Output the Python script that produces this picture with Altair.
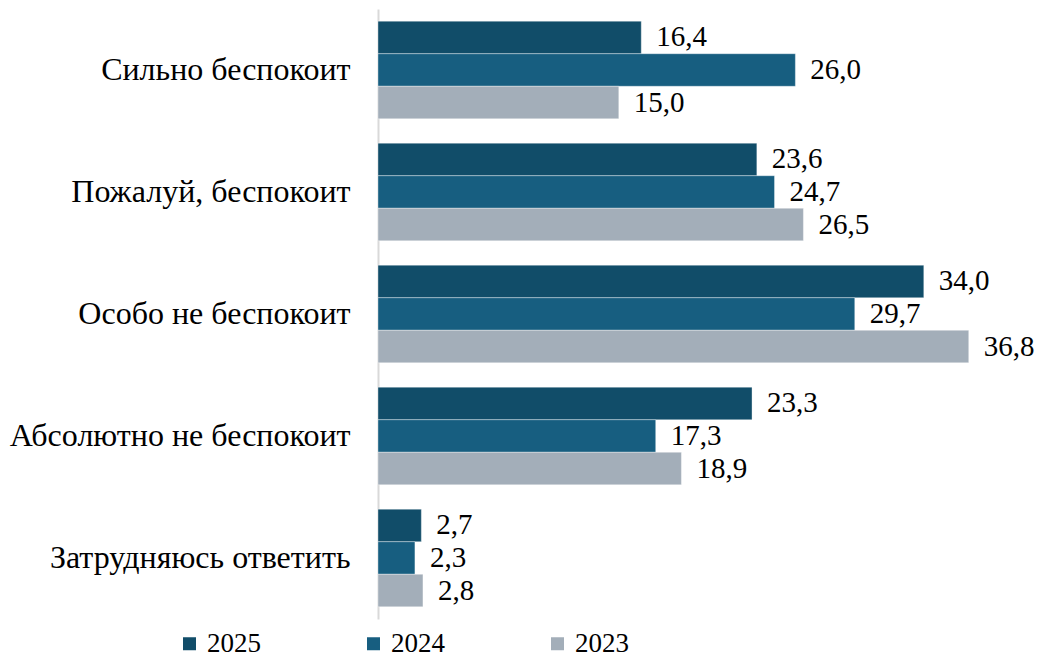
import altair as alt
import pandas as pd

categories = ["Сильно беспокоит", "Пожалуй, беспокоит", "Особо не беспокоит",
              "Абсолютно не беспокоит", "Затрудняюсь ответить"]
series = ["2025", "2024", "2023"]
v2025 = [16.4, 23.6, 34.0, 23.3, 2.7]
v2024 = [26.0, 24.7, 29.7, 17.3, 2.3]
v2023 = [15.0, 26.5, 36.8, 18.9, 2.8]
colors = ["#114d69", "#175e80", "#a3aeb9"]

rows = []
for s, vals in zip(series, [v2025, v2024, v2023]):
    for c, v in zip(categories, vals):
        rows.append({"cat": c, "year": s, "v": v,
                     "label": f"{v:.1f}".replace(".", ",")})
df = pd.DataFrame(rows)

FONT = "Liberation Serif"

y = alt.Y("cat:N", sort=categories,
          scale=alt.Scale(paddingInner=0.2, paddingOuter=0.1),
          axis=alt.Axis(title=None, ticks=False, labelFontSize=32, labelFont=FONT,
                        labelColor="black", labelPadding=28, labelLimit=0,
                        domainColor="#d9d9d9", domainWidth=2))
yo = alt.YOffset("year:N", sort=series)
x = alt.X("v:Q", scale=alt.Scale(domain=[0, 38], nice=False), axis=None)

bars = alt.Chart(df).mark_bar(stroke="#ffffff", strokeWidth=0.6, strokeOpacity=0.6).encode(
    x=x, y=y, yOffset=yo,
    color=alt.Color("year:N", sort=series,
                    scale=alt.Scale(domain=series, range=colors),
                    legend=alt.Legend(title=None, orient="none", direction="horizontal",
                                      legendX=-202, legendY=621,
                                      symbolType="square", symbolSize=169,
                                      symbolStrokeWidth=0, labelFont=FONT,
                                      labelFontSize=27, labelColor="black",
                                      labelOffset=4, columnPadding=99)),
)

labels = alt.Chart(df).mark_text(align="left", baseline="middle", dx=15,
                                 font=FONT, fontSize=29, color="black").encode(
    x=x, y=y, yOffset=yo, text="label:N")

chart = (bars + labels).properties(
    width=610, height=610,
    autosize=alt.AutoSizeParams(type="none"),
    padding={"left": 370, "top": 1, "right": 50, "bottom": 43},
).configure_view(stroke=None)

chart.save("out.html", embed_options={"renderer": "svg", "actions": False})
